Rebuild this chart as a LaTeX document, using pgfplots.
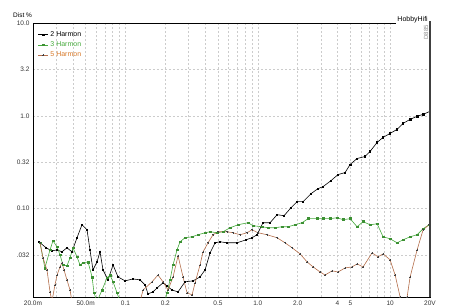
\documentclass[border=0pt]{standalone}
\usepackage{fontspec}
\setmainfont{Liberation Sans}
\usepackage{pgfplots}
\pgfplotsset{compat=1.18}
\definecolor{gr}{RGB}{70,170,60}
\definecolor{br}{RGB}{180,110,75}
\definecolor{brtext}{RGB}{215,120,40}
\begin{document}
\begin{tikzpicture}
\begin{axis}[
 scale only axis, width=397pt, height=274pt,
 xmode=log, ymode=log,
 xmin=0.02, xmax=20, ymin=0.01118, ymax=10,
 xtick={0.02,0.05,0.1,0.2,0.5,1,2,4,5,10,20},
 xticklabels={20.0m,50.0m,0.1,0.2,0.5,1.0,2.0,4,5,10,20V},
 minor xtick={0.03,0.04,0.06,0.07,0.08,0.09,0.3,0.4,0.6,0.7,0.8,0.9,3,6,7,8,9},
 ytick={0.03162,0.1,0.3162,1,3.162,10},
 yticklabels={.032,0.10,0.32,1.0,3.2,10.0},
 grid=both,
 major grid style={gray!40, dash pattern=on 2pt off 2pt, line width=0.4pt},
 minor grid style={gray!40, dash pattern=on 2pt off 2pt, line width=0.4pt},
 major tick length=0pt, minor tick length=0pt,
 tick label style={font=\fontsize{6.5}{7}\selectfont, text=black!80},
 /pgf/number format/assume math mode=true,
 axis line style={black, line width=0.6pt},
 legend style={draw=none, fill=none, at={(0.005,0.985)}, anchor=north west, font=\fontsize{7}{8}\selectfont, row sep=0pt},
 legend cell align=left,
 legend image code/.code={\draw[mark repeat=2,mark phase=2] plot coordinates {(0cm,0cm) (0.17cm,0cm) (0.34cm,0cm)};},
]
\addplot[black, line width=0.6pt, mark=square*, mark size=0.7pt] coordinates {
(0.0222,0.0440) (0.0251,0.0379) (0.0278,0.0351) (0.0304,0.0360) (0.0331,0.0343)
(0.0361,0.0379) (0.0394,0.0343) (0.0430,0.0486) (0.0469,0.0671) (0.0512,0.0593)
(0.0539,0.0360) (0.0568,0.0219) (0.0609,0.0267) (0.0642,0.0343) (0.0676,0.0219)
(0.0738,0.0171) (0.0805,0.0248) (0.0878,0.0184) (0.0992,0.0167) (0.1140,0.0175)
(0.1288,0.0171) (0.1405,0.0151) (0.1480,0.0121) (0.1614,0.0127) (0.1731,0.0140)
(0.1921,0.0159) (0.2060,0.0147) (0.2247,0.0133) (0.2495,0.0127) (0.2818,0.0163)
(0.3240,0.0167) (0.3659,0.0184) (0.3992,0.0219) (0.4354,0.0334) (0.4751,0.0429)
(0.5183,0.0440) (0.5853,0.0429) (0.6966,0.0429) (0.8147,0.0462) (0.9043,0.0486)
(0.9865,0.0524) (1.095,0.0706) (1.237,0.0706) (1.398,0.0861) (1.578,0.0840)
(1.783,0.1025) (1.980,0.1190) (2.197,0.1190) (2.526,0.1453) (2.852,0.1645)
(3.112,0.1729) (3.577,0.2008) (4.041,0.2331) (4.564,0.2449) (4.980,0.2990)
(5.623,0.3471) (6.463,0.3649) (7.050,0.4133) (7.965,0.5170) (8.841,0.5855)
(9.986,0.6469) (11.28,0.7146) (12.52,0.8296) (14.15,0.9167) (15.98,0.9877)
(17.74,1.038) (20.0,1.118)
};
\addlegendentry{2 Harmon}
\addplot[gr, line width=0.6pt, mark=square*, mark size=0.9pt, mark options={fill=gr!85!black, draw=gr!85!black}] coordinates {
(0.0226,0.0429) (0.0246,0.0230) (0.0269,0.0360) (0.0283,0.0451) (0.0304,0.0388)
(0.0320,0.0318) (0.0337,0.0248) (0.0361,0.0242) (0.0381,0.0295) (0.0401,0.0379)
(0.0430,0.0303) (0.0453,0.0248) (0.0478,0.0261) (0.0521,0.0267) (0.0559,0.0184)
(0.0578,0.0124) (0.0609,0.0100) (0.0665,0.0133) (0.0725,0.0180) (0.0764,0.0193)
(0.0805,0.0163) (0.0863,0.0124) (0.0909,0.0100) (0.1989,0.0100) (0.2060,0.0124)
(0.2170,0.0171) (0.2287,0.0248) (0.2451,0.0360) (0.2583,0.0440) (0.2818,0.0486)
(0.3184,0.0498) (0.3533,0.0524) (0.3992,0.0550) (0.4354,0.0564) (0.4919,0.0550)
(0.5459,0.0564) (0.6166,0.0623) (0.7088,0.0671) (0.8434,0.0706) (0.9203,0.0655)
(1.076,0.0639) (1.195,0.0623) (1.350,0.0623) (1.524,0.0639) (1.692,0.0639)
(1.911,0.0671) (2.159,0.0706) (2.397,0.0780) (2.803,0.0780) (3.112,0.0780)
(3.516,0.0780) (3.971,0.0799) (4.409,0.0761) (4.980,0.0780) (5.623,0.0639)
(6.243,0.0724) (7.050,0.0671) (7.965,0.0688) (8.841,0.0498) (9.986,0.0474)
(11.28,0.0429) (12.52,0.0462) (14.15,0.0498) (15.98,0.0524) (17.74,0.0608)
(19.69,0.0671)
};
\addlegendentry{\textcolor{gr}{3 Harmon}}
\addplot[br, line width=0.6pt, mark=+, mark size=1pt, mark options={black!75}] coordinates {
(0.0226,0.0429) (0.0238,0.0295) (0.0255,0.0219) (0.0269,0.0127) (0.0278,0.0100)
(0.0293,0.0151) (0.0304,0.0193) (0.0320,0.0236) (0.0331,0.0261) (0.0343,0.0219)
(0.0361,0.0171) (0.0381,0.0133) (0.0394,0.0100) (0.1288,0.0100) (0.1357,0.0133)
(0.1586,0.0163) (0.1761,0.0193) (0.1921,0.0163) (0.2097,0.0133) (0.2287,0.0184)
(0.2495,0.0310) (0.2721,0.0184) (0.2917,0.0124) (0.3184,0.0118) (0.3354,0.0159)
(0.3659,0.0248) (0.3855,0.0343) (0.4205,0.0429) (0.4587,0.0524) (0.5004,0.0564)
(0.5853,0.0564) (0.6498,0.0550) (0.7338,0.0524) (0.8288,0.0550) (0.9043,0.0593)
(1.004,0.0550) (1.174,0.0524) (1.398,0.0486) (1.606,0.0429) (1.815,0.0379)
(2.085,0.0326) (2.356,0.0267) (2.615,0.0236) (2.953,0.0208) (3.222,0.0193)
(3.639,0.0214) (4.041,0.0208) (4.564,0.0230) (5.155,0.0236) (5.623,0.0254)
(6.243,0.0236) (7.301,0.0334) (8.103,0.0303) (8.841,0.0326) (9.986,0.0281)
(10.90,0.0193) (11.89,0.0112) (12.52,0.0095) (13.43,0.0112) (14.15,0.0184)
(15.98,0.0360) (17.74,0.0593) (19.69,0.0671)
};
\addlegendentry{\textcolor{brtext}{5 Harmon}}
\end{axis}
\node[anchor=south west, inner sep=0pt, font=\fontsize{6.5}{7}\selectfont] at ([xshift=-20pt,yshift=5.5pt]current axis.north west) {Dist \%};
\node[anchor=south east, inner sep=1pt, fill=white, font=\fontsize{7}{8}\selectfont] at ([xshift=-1pt,yshift=-1pt]current axis.north east) {HobbyHifi};
\node[rotate=90, anchor=east, inner sep=0pt, text=black!45, font=\fontsize{6}{7}\selectfont] at ([xshift=-4pt,yshift=-2pt]current axis.north east) {D885};
\draw[line width=1.4pt, black!75] (current axis.south east) -- ([yshift=2pt]current axis.north east);
\pgfresetboundingbox
\path ([xshift=-33pt,yshift=-10pt]current axis.south west) rectangle ([xshift=19pt,yshift=23pt]current axis.north east);
\end{tikzpicture}
\end{document}
